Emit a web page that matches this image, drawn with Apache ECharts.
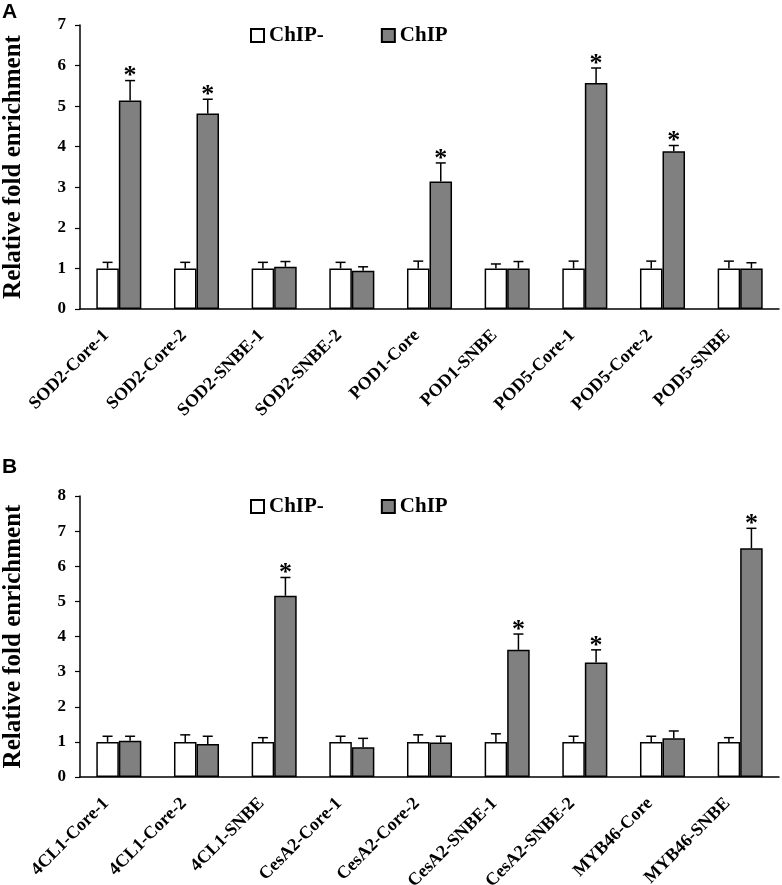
<!DOCTYPE html>
<html>
<head>
<meta charset="utf-8">
<script src="https://cdn.jsdelivr.net/npm/echarts@6/dist/echarts.min.js"></script>
<style>
html,body{margin:0;padding:0;background:#fff;}
#c{width:782px;height:885px;}
</style>
</head>
<body>
<div id="c"></div>
<script>
const catsA = ['SOD2-Core-1','SOD2-Core-2','SOD2-SNBE-1','SOD2-SNBE-2','POD1-Core','POD1-SNBE','POD5-Core-1','POD5-Core-2','POD5-SNBE'];
const negA = [1,1,1,1,1,1,1,1,1];
const negErrA = [0.15,0.15,0.15,0.15,0.18,0.11,0.18,0.18,0.18];
const chipA = [5.14,4.82,1.04,0.94,3.14,1.0,5.57,3.89,1.0];
const chipErrA = [0.49,0.35,0.13,0.10,0.46,0.17,0.37,0.14,0.14];
const sigA = [1,1,0,0,1,0,1,1,0];

const catsB = ['4CL1-Core-1','4CL1-Core-2','4CL1-SNBE','CesA2-Core-1','CesA2-Core-2','CesA2-SNBE-1','CesA2-SNBE-2','MYB46-Core','MYB46-SNBE'];
const negB = [1,1,1,1,1,1,1,1,1];
const negErrB = [0.16,0.20,0.12,0.16,0.20,0.23,0.16,0.16,0.12];
const chipB = [1.03,0.94,5.16,0.85,0.98,3.62,3.26,1.10,6.51];
const chipErrB = [0.13,0.22,0.52,0.25,0.18,0.45,0.36,0.21,0.57];
const sigB = [0,0,1,0,0,1,1,0,1];

const seriesNames = ['ChIP-','ChIP'];
const SERIF = '"Liberation Serif","Times New Roman",serif';
const CAT_GAP = 0.42;

const chart = echarts.init(document.getElementById('c'), null, {renderer:'canvas'});

function errSeries(idx, vals, errs, sig, side){
  return {
    type:'custom', xAxisIndex:idx, yAxisIndex:idx, z:5, silent:true,
    data: vals.map((v,i)=>[i, v, errs[i], sig[i]]),
    renderItem:function(params, api){
      const i = api.value(0), v = api.value(1), e = api.value(2), s = api.value(3);
      const band = api.size([1,0])[0];
      const bw = band*(1-CAT_GAP)/2;
      const c0 = api.coord([i, v]);
      const c1 = api.coord([i, v+e]);
      const x = c0[0] + side*bw/2;
      const capW = 10;
      const st = {stroke:'#000', lineWidth:1.5};
      const children = [
        {type:'line', shape:{x1:x,y1:c0[1],x2:x,y2:c1[1]}, style:st},
        {type:'line', shape:{x1:x-capW/2,y1:c1[1],x2:x+capW/2,y2:c1[1]}, style:st}
      ];
      if (s) {
        children.push({type:'text', style:{text:'*', x:x, y:c1[1]+9, align:'center', verticalAlign:'bottom',
          font:'bold 26px '+SERIF, fill:'#000'}});
      }
      return {type:'group', children:children};
    }
  };
}

function xAxis(idx, cats){
  return {
    type:'category', gridIndex:idx, data:cats,
    axisLine:{lineStyle:{color:'#000', width:1.5}},
    axisTick:{inside:true, length:5, lineStyle:{color:'#000', width:1.2}},
    axisLabel:{interval:0, rotate:45, margin:11, color:'#000', fontFamily:SERIF, fontWeight:'bold', fontSize:18, padding:[0,18,0,0]},
    splitLine:{show:false}
  };
}
function yAxis(idx, max){
  return {
    type:'value', gridIndex:idx, min:0, max:max, interval:1,
    name:'Relative fold enrichment', nameLocation:'middle', nameRotate:90, nameGap:54,
    nameTextStyle:{color:'#000', fontFamily:SERIF, fontWeight:'bold', fontSize:25},
    axisLine:{show:true, lineStyle:{color:'#000', width:1.5}},
    axisTick:{show:true, inside:false, length:5, lineStyle:{color:'#000', width:1.2}},
    axisLabel:{color:'#000', fontFamily:SERIF, fontWeight:'bold', fontSize:17, margin:14},
    splitLine:{show:false}
  };
}
function bars(idx, vals, color, name){
  return {
    type:'bar', name:name, xAxisIndex:idx, yAxisIndex:idx, data:vals,
    barGap:'0%', barCategoryGap:(CAT_GAP*100)+'%',
    itemStyle:{color:color, borderColor:'#000', borderWidth:1.5},
    emphasis:{disabled:true}, animation:false
  };
}
function legend(top){
  return {
    left:245, top:top, itemWidth:13, itemHeight:13, itemGap:57, icon:'rect',
    data:seriesNames, selectedMode:false,
    textStyle:{color:'#000', fontFamily:SERIF, fontWeight:'bold', fontSize:21}
  };
}

const option = {
  backgroundColor:'#fff',
  animation:false,
  graphic:[
    {type:'text', left:2, top:2, style:{text:'A', font:'bold 21px "Liberation Sans",Arial,sans-serif', fill:'#000'}},
    {type:'text', left:2, top:457, style:{text:'B', font:'bold 21px "Liberation Sans",Arial,sans-serif', fill:'#000'}}
  ],
  legend:[ legend(20), legend(491) ],
  grid:[
    {left:80, right:3, top:25, height:284, outerBoundsMode:'none', containLabel:false},
    {left:80, right:3, top:496, height:281, outerBoundsMode:'none', containLabel:false}
  ],
  xAxis:[xAxis(0,catsA), xAxis(1,catsB)],
  yAxis:[yAxis(0,7), yAxis(1,8)],
  series:[
    bars(0, negA, '#ffffff', 'ChIP-'),
    bars(0, chipA, '#808080', 'ChIP'),
    errSeries(0, negA, negErrA, negA.map(()=>0), -1),
    errSeries(0, chipA, chipErrA, sigA, 1),
    bars(1, negB, '#ffffff', 'ChIP-'),
    bars(1, chipB, '#808080', 'ChIP'),
    errSeries(1, negB, negErrB, negB.map(()=>0), -1),
    errSeries(1, chipB, chipErrB, sigB, 1)
  ]
};
chart.setOption(option);
</script>
</body>
</html>
